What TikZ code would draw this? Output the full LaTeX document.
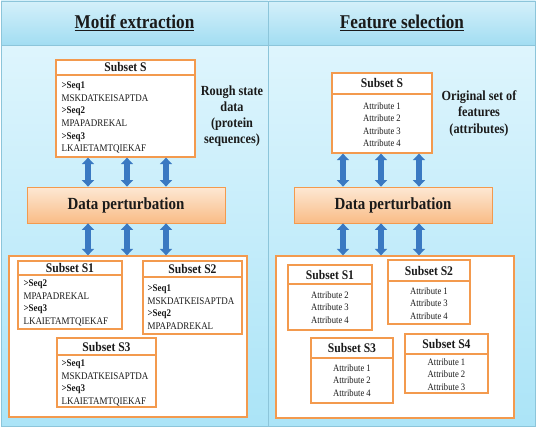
\documentclass[tikz,border=0pt]{standalone}
\usepackage{fontspec}
\setmainfont[FakeStretch=0.88]{Liberation Serif}
\usepackage{tikz}
\usetikzlibrary{
  arrows.meta,
  positioning,
  calc
}
\definecolor{mfOrange}{HTML}{F39A4E}
\definecolor{mfPeachTop}{HTML}{FDE8D4}
\definecolor{mfPeachBot}{HTML}{F9BC86}
\definecolor{mfArrow}{HTML}{3A79C2}
\definecolor{mfLine}{HTML}{8CC5DA}
\definecolor{mfHeadTop}{HTML}{D4F0FA}
\definecolor{mfHeadBot}{HTML}{A2DDF2}
\definecolor{mfBodyTop}{HTML}{DEF5FD}
\definecolor{mfBodyBot}{HTML}{ABE4F7}
\definecolor{mfText}{HTML}{1A1A1A}
\tikzset{
  panel/.style={
    draw=mfLine, line width=0.6pt, top color=mfBodyTop, bottom color=mfBodyBot,
    minimum width=267pt, minimum height=381pt, inner sep=0pt
  },
  headcell/.style={
    draw=mfLine, line width=0.6pt, top color=mfHeadTop, bottom color=mfHeadBot,
    minimum width=267pt, minimum height=44pt, inner sep=0pt,
    font=\fontsize{19.5}{22}\selectfont\bfseries, text=mfText
  },
  container/.style={draw=mfOrange, line width=1.3pt, fill=white, inner sep=0pt},
  subframe/.style={draw=mfOrange, line width=1.3pt, fill=white, inner sep=0pt},
  subhead/.style={
    draw=mfOrange, line width=1.3pt, fill=white, inner sep=0pt,
    font=\fontsize{13.2}{15}\selectfont\bfseries, text=mfText
  },
  seqlist/.style={
    inner sep=0pt, align=left, text=mfText,
    font=\fontsize{10.2}{12.6}\selectfont
  },
  attrlist/.style={
    inner sep=0pt, align=center, text=mfText,
    font=\fontsize{9.8}{12.3}\selectfont
  },
  perturb/.style={
    draw=mfOrange, line width=0.8pt, top color=mfPeachTop, bottom color=mfPeachBot,
    minimum width=198pt, minimum height=36pt, inner sep=0pt,
    font=\fontsize{17}{20}\selectfont\bfseries, text=mfText
  },
  sidenote/.style={
    align=center, inner sep=0pt, text=mfText,
    font=\fontsize{13.9}{16}\selectfont\bfseries
  },
  dblarrow/.style={
    {Triangle[width=12pt,length=6.5pt]}-{Triangle[width=12pt,length=6.5pt]},
    line width=5.5pt, draw=mfArrow
  }
}

\begin{document}
\begin{tikzpicture}[x=1pt, y=-1pt]
  \useasboundingbox (0,0) rectangle (537,433);

  % two columns
  \node[panel] (lbody) at (134.5,235.5) {};
  \node[panel] (rbody) at (402,235.5) {};
  \node[headcell] (lhead) at (134.5,23) {\underline{Motif extraction}};
  \node[headcell] (rhead) at (402,23) {\underline{Feature selection}};

  % ---- motif extraction ----
  \node[subframe, minimum width=139pt, minimum height=97pt] (lS) at (125.5,108.5) {};
  \node[subhead, minimum width=139pt, minimum height=15pt, anchor=north] (lSh) at (lS.north) {Subset S};
  \node[seqlist, anchor=north west] (lSb) at ([xshift=6pt,yshift=-6pt]lSh.south west)
    {\textbf{>Seq1}\\MSKDATKEISAPTDA\\\textbf{>Seq2}\\MPAPADREKAL\\\textbf{>Seq3}\\LKAIETAMTQIEKAF};
  \node[sidenote] (lnote) at (232,116) {Rough state\\data\\(protein\\sequences)};

  \node[perturb] (ldp) at (126,205) {Data perturbation};
  \node[container, minimum width=238pt, minimum height=161pt] (lbox) at (128,336.5) {};

  \node[subframe, minimum width=104pt, minimum height=68pt] (lS1) at (70,295) {};
  \node[subhead, minimum width=104pt, minimum height=14pt, anchor=north] (lS1h) at (lS1.north) {Subset S1};
  \node[seqlist, anchor=north west] (lS1b) at ([xshift=6pt,yshift=-4pt]lS1h.south west)
    {\textbf{>Seq2}\\MPAPADREKAL\\\textbf{>Seq3}\\LKAIETAMTQIEKAF};

  \node[subframe, minimum width=99pt, minimum height=73pt] (lS2) at (192.5,297.5) {};
  \node[subhead, minimum width=99pt, minimum height=16pt, anchor=north] (lS2h) at (lS2.north) {Subset S2};
  \node[seqlist, anchor=north west] (lS2b) at ([xshift=5pt,yshift=-7pt]lS2h.south west)
    {\textbf{>Seq1}\\MSKDATKEISAPTDA\\\textbf{>Seq2}\\MPAPADREKAL};

  \node[subframe, minimum width=99pt, minimum height=69pt] (lS3) at (106.5,372.5) {};
  \node[subhead, minimum width=99pt, minimum height=17pt, anchor=north] (lS3h) at (lS3.north) {Subset S3};
  \node[seqlist, anchor=north west] (lS3b) at ([xshift=5pt,yshift=-4pt]lS3h.south west)
    {\textbf{>Seq1}\\MSKDATKEISAPTDA\\\textbf{>Seq3}\\LKAIETAMTQIEKAF};

  \foreach \dx in {-37.5,1.5,40.5} {
    \draw[dblarrow] ([xshift=\dx pt]lS.south) -- ([xshift=\dx pt]lS.south |- ldp.north);
    \draw[dblarrow] ([xshift=\dx pt]lS.south |- ldp.south) -- ([xshift=\dx pt]lS.south |- lbox.north);
  }

  % ---- feature selection ----
  \node[subframe, minimum width=100pt, minimum height=80pt] (rS) at (382,113) {};
  \node[subhead, minimum width=100pt, minimum height=21pt, anchor=north] (rSh) at (rS.north) {Subset S};
  \node[attrlist, anchor=north] (rSb) at ([yshift=-8pt]rSh.south)
    {Attribute 1\\Attribute 2\\Attribute 3\\Attribute 4};
  \node[sidenote, font=\fontsize{13.9}{16.5}\selectfont\bfseries] (rnote) at (479,113.5) {Original set of\\features\\(attributes)};

  \node[perturb] (rdp) at (393,205) {Data perturbation};
  \node[container, minimum width=238pt, minimum height=162pt] (rbox) at (395,337) {};

  \node[subframe, minimum width=84pt, minimum height=65pt] (rS1) at (330,297.5) {};
  \node[subhead, minimum width=84pt, minimum height=19pt, anchor=north] (rS1h) at (rS1.north) {Subset S1};
  \node[attrlist, anchor=north] (rS1b) at ([yshift=-7pt]rS1h.south)
    {Attribute 2\\Attribute 3\\Attribute 4};

  \node[subframe, minimum width=82pt, minimum height=64pt] (rS2) at (429,292) {};
  \node[subhead, minimum width=82pt, minimum height=21pt, anchor=north] (rS2h) at (rS2.north) {Subset S2};
  \node[attrlist, anchor=north] (rS2b) at ([yshift=-6pt]rS2h.south)
    {Attribute 1\\Attribute 3\\Attribute 4};

  \node[subframe, minimum width=82pt, minimum height=65pt] (rS3) at (352,370.5) {};
  \node[subhead, minimum width=82pt, minimum height=20pt, anchor=north] (rS3h) at (rS3.north) {Subset S3};
  \node[attrlist, anchor=north] (rS3b) at ([yshift=-6pt]rS3h.south)
    {Attribute 1\\Attribute 2\\Attribute 4};

  \node[subframe, minimum width=83pt, minimum height=59pt] (rS4) at (446.5,363.5) {};
  \node[subhead, minimum width=83pt, minimum height=20pt, anchor=north] (rS4h) at (rS4.north) {Subset S4};
  \node[attrlist, anchor=north] (rS4b) at ([yshift=-4pt]rS4h.south)
    {Attribute 1\\Attribute 2\\Attribute 3};

  \foreach \dx in {-39,-1,37} {
    \draw[dblarrow] ([xshift=\dx pt]rS.south) -- ([xshift=\dx pt]rS.south |- rdp.north);
    \draw[dblarrow] ([xshift=\dx pt]rS.south |- rdp.south) -- ([xshift=\dx pt]rS.south |- rbox.north);
  }
\end{tikzpicture}
\end{document}
